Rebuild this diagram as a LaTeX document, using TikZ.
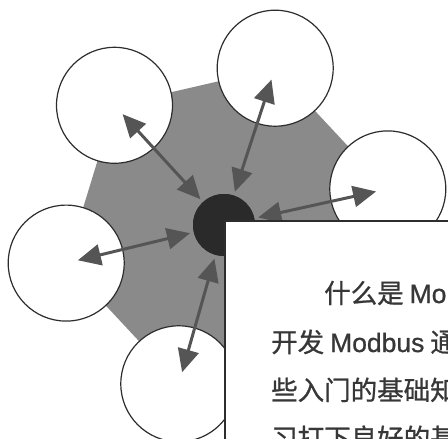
\documentclass[tikz,border=0pt]{standalone}
\usepackage{fontspec}
\newfontfamily\cjk[FakeBold=0.8]{Noto Sans CJK SC}
\newfontfamily\latf[FakeBold=0.8]{Liberation Sans}
\usetikzlibrary{arrows.meta,calc}
\definecolor{hexgray}{RGB}{138,138,138}
\definecolor{hubcol}{RGB}{42,42,42}
\definecolor{ringcol}{RGB}{45,45,45}
\definecolor{arrcol}{RGB}{85,85,85}
\definecolor{txtcol}{RGB}{55,55,55}
\begin{document}
\begin{tikzpicture}[x=1pt,y=-1pt,
  sat/.style={circle, draw=ringcol, line width=1.2pt, fill=white, minimum size=116pt, inner sep=0pt},
  hubnode/.style={circle, fill=hubcol, minimum size=62pt, inner sep=0pt},
  arr/.style={draw=arrcol, fill=arrcol, line width=3pt, {Triangle[length=23pt,width=21pt]}-{Triangle[length=23pt,width=21pt]}},
  boxnode/.style={draw=ringcol, line width=1.3pt, fill=white},
  txt/.style={anchor=base west, inner sep=0pt, text=txtcol, font=\cjk\fontsize{26.5}{30}\selectfont}]
\useasboundingbox (0,0) rectangle (448,439);
\clip (0,0) rectangle (448,439);
\fill[white] (0,0) rectangle (448,439);
% hexagon vertices = satellite centres
\coordinate (c1) at (387.8,188.9);
\coordinate (c2) at (275.2,68.2);
\coordinate (c3) at (114.5,105.3);
\coordinate (c4) at (66.2,263.1);
\coordinate (c5) at (178.8,383.8);
\coordinate (c6) at (339.5,346.7);
\fill[hexgray] (c1) -- (c2) -- (c3) -- (c4) -- (c5) -- (c6) -- cycle;
\node[sat] (o1) at (c1) {};
\node[sat] (o2) at (c2) {};
\node[sat] (o3) at (c3) {};
\node[sat] (o4) at (c4) {};
\node[sat] (o5) at (c5) {};
\node[hubnode] (hub) at (224,225) {};
\foreach \o in {o1,o2,o3,o4,o5}{
  \draw[arr] ($(hub.center)!35pt!(\o.center)$) -- ($(\o.center)!12pt!(hub.center)$);
}
\node[hubnode] at (hub.center) {};
\draw[boxnode] (225,221) rectangle (470,470);
\node[txt] (t1) at (324,303) {什么是 {\latf Mo}};
\node[txt] (t2) at (271,352) {开发 {\latf Modbus} 通};
\node[txt] (t3) at (271,400) {些入门的基础知};
\node[txt] (t4) at (271,448) {习打下良好的基};
\end{tikzpicture}
\end{document}
